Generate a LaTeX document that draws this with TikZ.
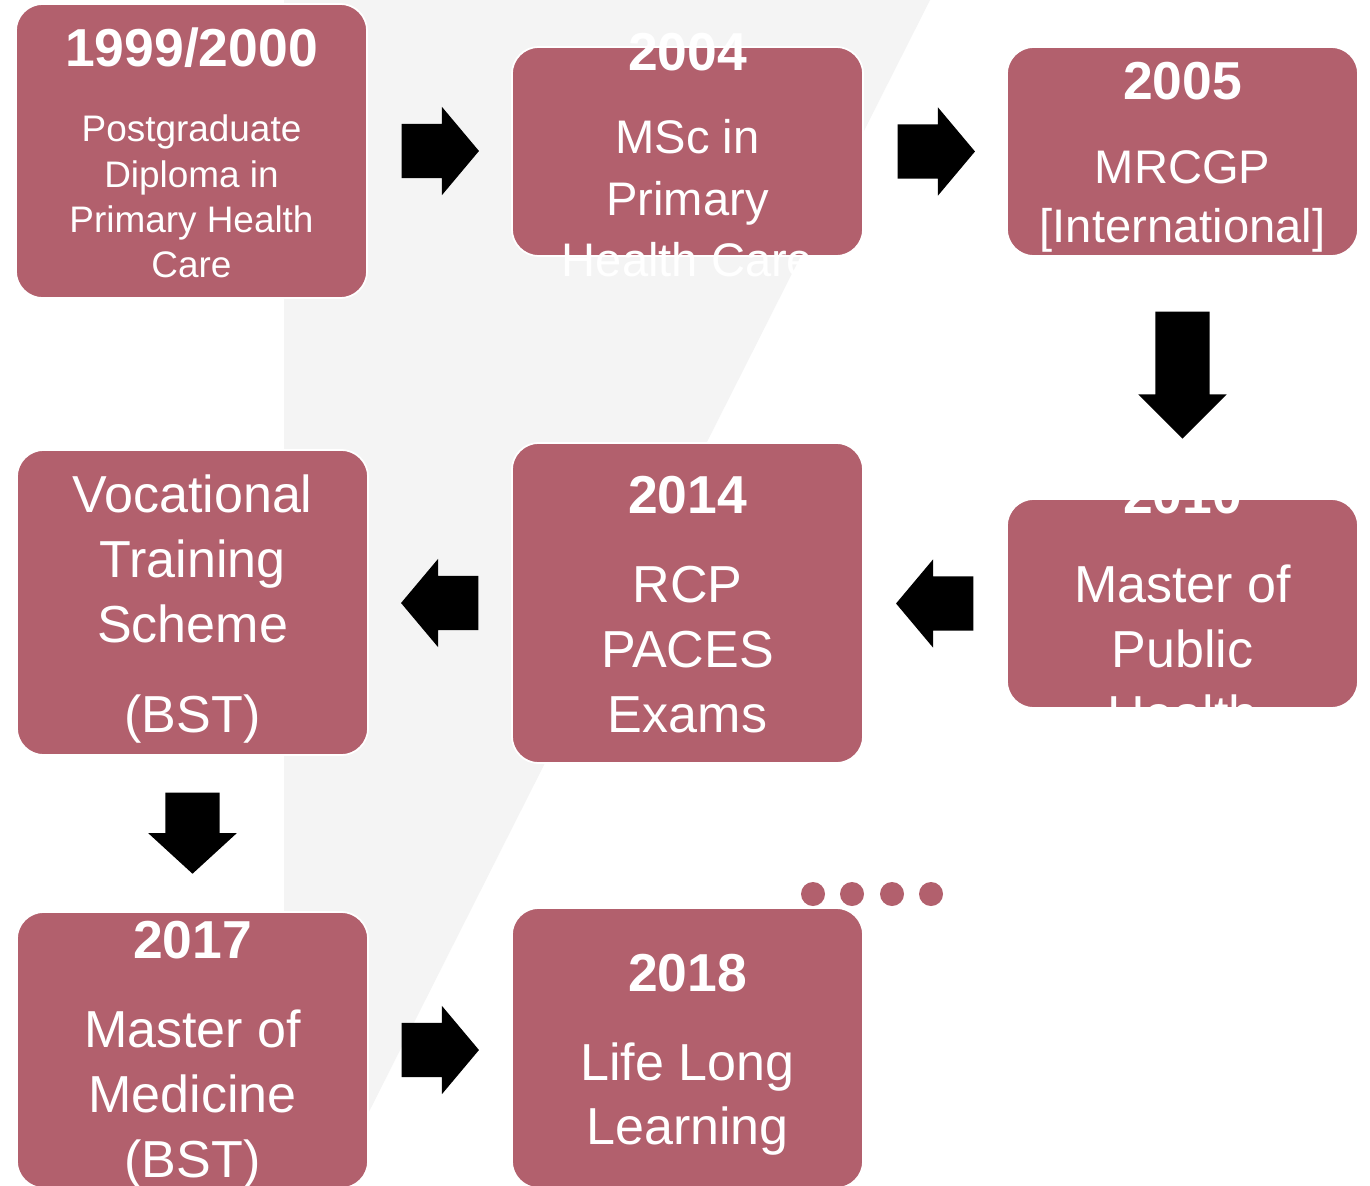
\documentclass[tikz,border=0pt]{standalone}
\usepackage{fontspec}
\setmainfont{Liberation Sans}
\usetikzlibrary{shapes.arrows,calc}
\definecolor{rose}{RGB}{178,96,109}
\definecolor{backgrey}{RGB}{244,244,244}
\newcommand{\lines}[1]{\begin{tabular}[t]{@{}c@{}}#1\end{tabular}}

\begin{document}
\begin{tikzpicture}[x=0.01cm, y=-0.01cm,
 box/.style={shape=rectangle, rounded corners=0.27cm, fill=rose, draw=white, line width=0.5pt, minimum width=3.51cm, inner sep=0pt},
 year/.style={text=white, anchor=base, inner sep=0pt, font=\bfseries\fontsize{15.2}{18}\selectfont},
 body/.style={text=white, anchor=base, inner sep=0pt, font=\fontsize{14.8}{18.5}\selectfont},
 blockarrow/.style={shape=single arrow, fill=black, inner sep=0.265cm, single arrow head extend=0.17cm, single arrow tip angle=100, minimum height=0.75cm, anchor=tail}
]

% background wedge
\fill[white] (0,0) rectangle (1370,1185);
\fill[backgrey] (284,0) -- (930,0) -- (332,1185) -- (284,1185) -- cycle;
\useasboundingbox (0,0) rectangle (1370,1185);

% boxes
\node (y1999) at (191.5,151) [box, minimum height=2.94cm] {};
\node (y2004) at (687.5,151.5) [box, minimum height=2.09cm] {};
\node (y2005) at (1182.5,151.5) [box, minimum height=2.09cm] {};
\node (y2010) at (1182.5,603.5) [box, minimum height=2.09cm] {};
\node (y2014) at (687.5,603) [box, minimum height=3.20cm] {};
\node (vts) at (192.5,602.5) [box, minimum height=3.05cm] {};
\node (y2017) at (192.5,1050) [box, minimum height=2.76cm] {};
\node (y2018) at (687.5,1048) [box, minimum height=2.80cm] {};

% arrows between the boxes, placed by their tails
\node (a1) at ($(y1999.east)+(33,0)$) [blockarrow] {};
\node (a2) at ($(y2004.east)+(33,0)$) [blockarrow] {};
\node (a3) at ($(y2005.south)+(0,54)$) [blockarrow, minimum height=1.27cm, single arrow tip angle=90, shape border rotate=270] {};
\node (a4) at ($(y2010.west)+(-32,0)$) [blockarrow, shape border rotate=180] {};
\node (a5) at ($(y2014.west)+(-32,0)$) [blockarrow, shape border rotate=180] {};
\node (a6) at ($(vts.south)+(0,36)$) [blockarrow, minimum height=0.81cm, single arrow tip angle=95, shape border rotate=270] {};
\node (a7) at ($(y2017.east)+(32,0)$) [blockarrow] {};

% texts
\node (t1999) at (191.5,67) [year] {1999/2000};
\node (d1999) at (191.5,142) [body, font=\fontsize{10.5}{12.8}\selectfont] {\lines{Postgraduate\\Diploma in\\Primary Health\\Care}};
\node (t2004) at (687.5,71) [year] {2004};
\node (d2004) at (687.5,154) [body, font=\fontsize{13.4}{17.4}\selectfont] {\lines{MSc in\\Primary\\Health Care}};
\node (t2005) at (1182.5,100) [year] {2005};
\node (d2005) at (1182.5,183) [body, font=\fontsize{13.4}{16.8}\selectfont] {\lines{MRCGP\\{[International]}}};
\node (t2010) at (1182.5,513) [year] {2010};
\node (d2010) at (1182.5,602) [body] {\lines{Master of\\Public\\Health}};
\node (t2014) at (687.5,513) [year] {2014};
\node (d2014) at (687.5,602) [body] {\lines{RCP\\PACES\\Exams}};
\node (dvts) at (192.5,512) [body] {\lines{Vocational\\Training\\Scheme\\[7.1pt](BST)}};
\node (t2017) at (192.5,958) [year] {2017};
\node (d2017) at (192.5,1047) [body] {\lines{Master of\\Medicine\\(BST)}};
\node (t2018) at (687.5,991) [year] {2018};
\node (d2018) at (687.5,1080) [body, font=\fontsize{14.8}{18.2}\selectfont] {\lines{Life Long\\Learning}};

% dots
\foreach \x in {813,852,892,931}
 \fill[rose] (\x,894) circle (0.12cm);

\end{tikzpicture}
\end{document}
